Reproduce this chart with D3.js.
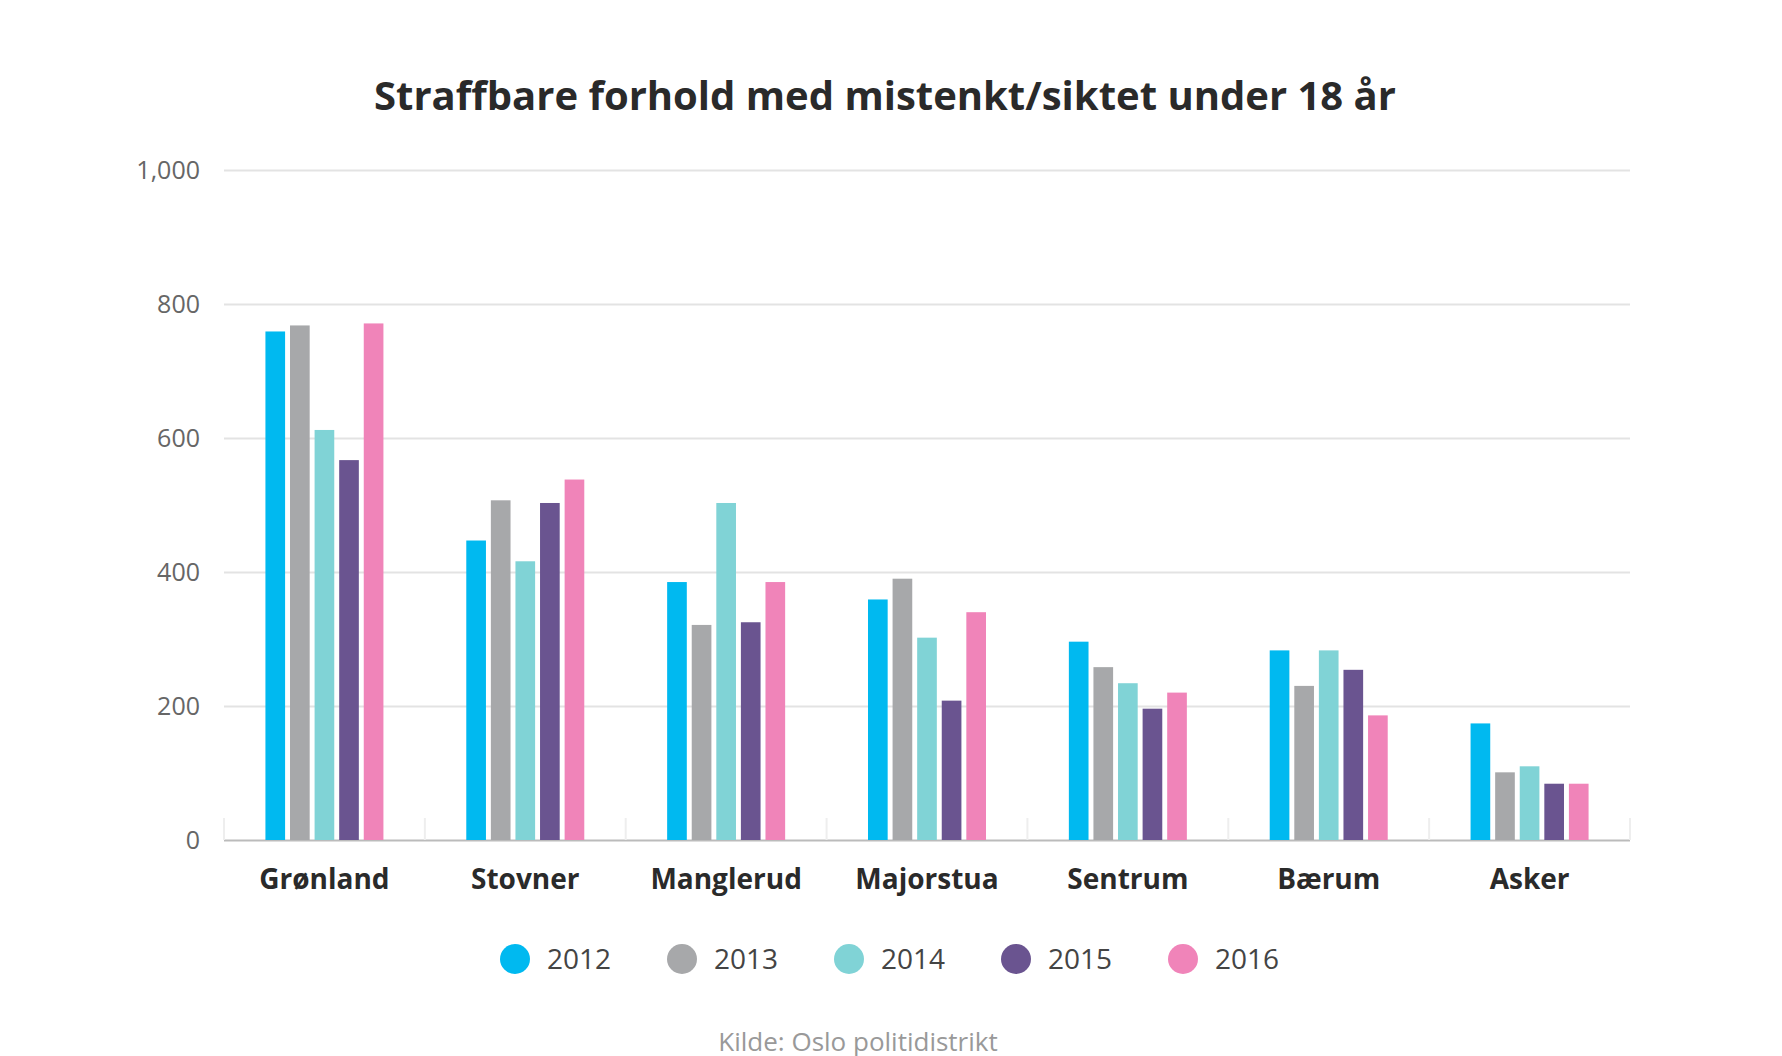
<!DOCTYPE html>
<html><head><meta charset="utf-8">
<script src="https://cdn.jsdelivr.net/npm/d3@7"></script>
<style>body{margin:0;background:#fff;font-family:"Open Sans","Noto Sans",sans-serif}</style>
</head><body><svg></svg>
<script>
// значения
let years = ["2012","2013","2014","2015","2016"];
let colors = ["#00b9f0","#a7a8aa","#80d3d6","#6a5490","#f084b9"];
let data = [
  {sted:"Grønland", v:[759,768,612,567,771]},
  {sted:"Stovner", v:[447,507,416,503,538]},
  {sted:"Manglerud", v:[385,321,503,325,385]},
  {sted:"Majorstua", v:[359,390,302,208,340]},
  {sted:"Sentrum", v:[296,258,234,196,220]},
  {sted:"Bærum", v:[283,230,283,254,186]},
  {sted:"Asker", v:[174,101,110,84,84]}
];
let width = 1782, height = 1056;
let marginL = 224, marginR = 1630, marginT = 170, marginB = 840;
let svg = d3.select("svg").attr("width", width).attr("height", height);

svg.append("text").attr("x", 885).attr("y", 110).attr("text-anchor","middle")
  .style("font-size","40px").style("font-weight","bold").style("fill","#2a2a2a")
  .text("Straffbare forhold med mistenkt/siktet under 18 år");

let scaleX = d3.scaleBand().domain(data.map(d => d.sted)).range([marginL, marginR]);
let scaleY = d3.scaleLinear().domain([0,1000]).range([marginB, marginT]);
let inner = d3.scaleBand().domain(years).range([0, 118]).paddingInner(0.2);

// сетка
let axisY = d3.axisLeft(scaleY).tickValues([0,200,400,600,800,1000]).tickSize(0).tickPadding(24);
let gy = svg.append("g").attr("transform", `translate(${marginL},0)`).call(axisY);
gy.select(".domain").remove();
gy.selectAll("text").style("font-size","25px").style("fill","#666").style("font-family","Open Sans");
gy.selectAll(".tick").append("line").attr("x1",0).attr("x2",marginR-marginL)
  .attr("stroke", d => d === 0 ? "#bbb" : "#e3e3e3").attr("stroke-width", 2);

// засечки между группами
svg.selectAll(".sep").data(d3.range(8)).enter().append("line")
  .attr("x1", i => marginL + i*scaleX.step()).attr("x2", i => marginL + i*scaleX.step())
  .attr("y1", marginB - 22).attr("y2", marginB).attr("stroke","#eee").attr("stroke-width",2);

// столбцы
let groups = svg.selectAll(".grp").data(data).enter().append("g")
  .attr("transform", d => `translate(${scaleX(d.sted) + (scaleX.bandwidth()-118)/2},0)`);
groups.selectAll("rect").data(d => d.v.map((v,i) => ({v:v, y:years[i], c:colors[i]})))
  .enter().append("rect")
  .attr("x", d => inner(d.y)).attr("width", inner.bandwidth())
  .attr("y", d => scaleY(d.v)).attr("height", d => marginB - scaleY(d.v))
  .attr("fill", d => d.c);

// подписи по оси X
svg.selectAll(".lbl").data(data).enter().append("text")
  .attr("x", d => scaleX(d.sted) + scaleX.bandwidth()/2).attr("y", 889)
  .attr("text-anchor","middle").style("font-size","28px").style("font-weight","bold")
  .style("fill","#2a2a2a").text(d => d.sted);

// легенда
let leg = svg.selectAll(".leg").data(years).enter().append("g")
  .attr("transform", (d,i) => `translate(${515 + i*167},959)`);
leg.append("circle").attr("r",15).attr("fill", (d,i) => colors[i]);
leg.append("text").attr("x",32).attr("y",10).style("font-size","28px").style("fill","#444").text(d => d);

svg.append("text").attr("x",858).attr("y",1051).attr("text-anchor","middle")
  .style("font-size","26px").style("fill","#999").text("Kilde: Oslo politidistrikt");
</script></body></html>
